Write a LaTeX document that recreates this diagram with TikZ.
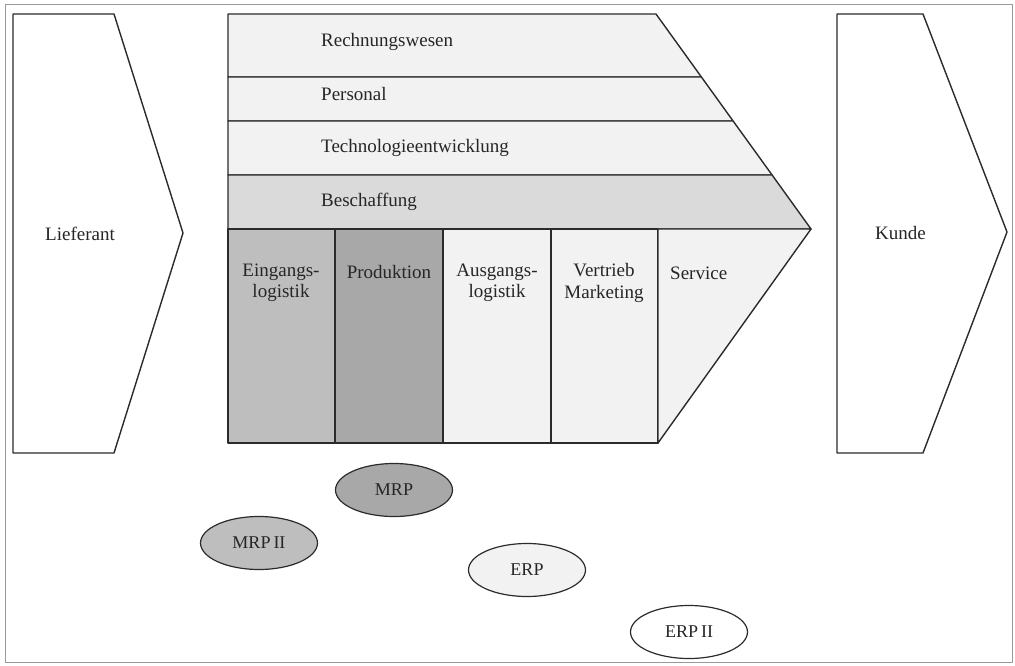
\documentclass[tikz,border=0pt]{standalone}
\usepackage{fontspec}
\setmainfont{Liberation Serif}
\usetikzlibrary{shapes.geometric}
\definecolor{paleGray}{HTML}{F2F2F2}
\definecolor{beschGray}{HTML}{DADADA}
\definecolor{midGray}{HTML}{BEBEBE}
\definecolor{darkGray}{HTML}{A8A8A8}
\definecolor{edge}{HTML}{2B2B2B}
\begin{document}
\begin{tikzpicture}[x=1pt,y=-1pt,line join=round]
\tikzstyle{part} = [draw=edge,line width=1.4pt]
\tikzstyle{lbl} = [font=\fontsize{19}{21.5}\selectfont,inner sep=0pt,text=black!85]
\tikzstyle{rowlbl} = [lbl,anchor=west]
\tikzstyle{collbl} = [lbl,align=center]
\tikzstyle{sys} = [ellipse,draw=edge,line width=1.2pt,minimum width=117pt,minimum height=53pt,inner sep=0pt,font=\fontsize{18}{20}\selectfont,text=black!85]
\useasboundingbox (0,0) rectangle (1015,666);
\draw[black!40,line width=1pt] (5,5) rectangle (1012,662);
% Lieferant und Kunde
\filldraw[part,fill=white] (13,14)--(114,14)--(183,233)--(114,453)--(13,453)--cycle;
\filldraw[part,fill=white] (837,14)--(923,14)--(1007,232)--(923,453)--(837,453)--cycle;
% unterstuetzende Aktivitaeten
\filldraw[part,fill=paleGray] (228,14)--(656,14)--(701.4,77)--(228,77)--cycle;
\filldraw[part,fill=paleGray] (228,77)--(701.4,77)--(733.1,121)--(228,121)--cycle;
\filldraw[part,fill=paleGray] (228,121)--(733.1,121)--(772.1,175)--(228,175)--cycle;
\filldraw[part,fill=beschGray] (228,175)--(772.1,175)--(811,229)--(228,229)--cycle;
% primaere Aktivitaeten
\filldraw[part,fill=midGray] (228,229) rectangle (335,443);
\filldraw[part,fill=darkGray] (335,229) rectangle (443,443);
\filldraw[part,fill=paleGray] (443,229) rectangle (551,443);
\filldraw[part,fill=paleGray] (551,229) rectangle (658,443);
\filldraw[part,fill=paleGray] (658,229)--(811,229)--(658,443)--cycle;
% Beschriftung
\node[rowlbl] (lief) at (45,234) {Lieferant};
\node[rowlbl] (kunde) at (875,233) {Kunde};
\node[rowlbl] (rw) at (321,42) {Rechnungswesen};
\node[rowlbl] (pers) at (321,94) {Personal};
\node[rowlbl] (tech) at (321,148) {Technologieentwicklung};
\node[rowlbl] (besch) at (321,202) {Beschaffung};
\node[collbl] (eing) at (281,283) {Eingangs-\\logistik};
\node[collbl] (prod) at (389,272) {Produktion};
\node[collbl] (ausg) at (497,283) {Ausgangs-\\logistik};
\node[collbl] (vert) at (604,283) {Vertrieb\\Marketing};
\node[rowlbl] (serv) at (670,273) {Service};
% Systeme
\node[sys,fill=darkGray] (mrp) at (394,490) {MRP};
\node[sys,fill=midGray] (mrp2) at (259,543) {MRP\,II};
\node[sys,fill=paleGray] (erp) at (527,570) {ERP};
\node[sys,fill=white] (erp2) at (689,632) {ERP\,II};
\end{tikzpicture}
\end{document}
